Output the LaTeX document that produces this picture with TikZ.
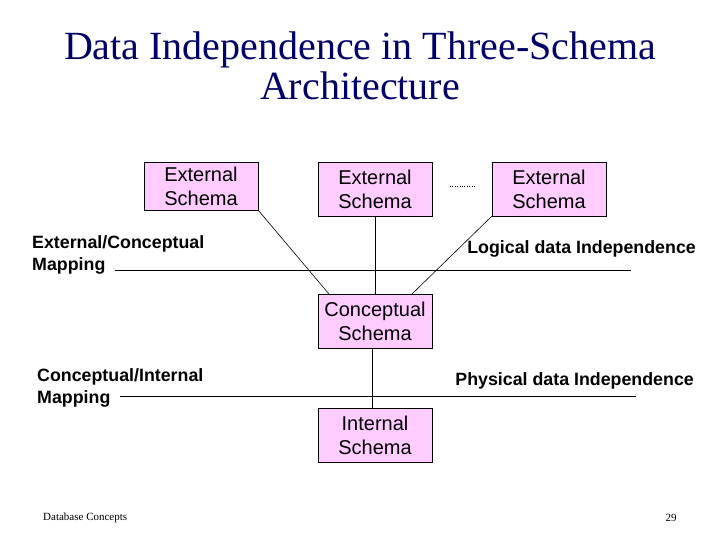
\documentclass[tikz,border=0pt]{standalone}
\usepackage{fontspec}
\setsansfont{Liberation Sans}
\setmainfont{Liberation Serif}
\definecolor{titleblue}{RGB}{0,0,102}
\begin{document}
\begin{tikzpicture}[x=1pt,y=-1pt,
 box/.style={draw,fill={rgb,255:red,255;green,204;blue,255},inner sep=0pt,align=center,font=\sffamily\fontsize{20}{24}\selectfont},
 lab/.style={font=\sffamily\bfseries\fontsize{17.8}{22}\selectfont,align=left,inner sep=0pt},
 ln/.style={draw,line width=0.6pt}]
\useasboundingbox (0,0) rectangle (720,540);
\node[font=\rmfamily\fontsize{40}{40}\selectfont,align=center,text=titleblue] (title) at (360,66) {Data Independence in Three-Schema\\Architecture};
\node[box,minimum width=114pt,minimum height=48pt] (e1) at (201,186) {External\\Schema};
\node[box,minimum width=114pt,minimum height=54pt] (e2) at (375,189) {External\\Schema};
\node[box,minimum width=114pt,minimum height=54pt] (e3) at (549,189) {External\\Schema};
\node[box,minimum width=114pt,minimum height=54pt] (c) at (375,321) {Conceptual\\Schema};
\node[box,minimum width=114pt,minimum height=54pt] (i) at (375,435) {Internal\\Schema};
\coordinate (d1) at (450,186); \coordinate (d2) at (475,186);
\draw[dotted] (d1) -- (d2);
\draw[ln] (e1.south east) -- ([xshift=11pt]c.north west);
\draw[ln] (e2.south) -- (c.north);
\draw[ln] (e3.south west) -- ([xshift=-20pt]c.north east);
\draw[ln] ([xshift=-3pt]c.south) -- ([xshift=-3pt]i.north);
\coordinate (h1a) at (115,270); \coordinate (h1b) at (631,270);
\coordinate (h2a) at (120,396); \coordinate (h2b) at (636,396);
\draw[ln] (h1a) -- (h1b);
\draw[ln] (h2a) -- (h2b);
\node[lab,anchor=west] (m1) at (32,244) {External/Conceptual};
\node[lab,anchor=west] at (32,266) {Mapping};
\node[lab,anchor=east] (l1) at (696,249) {Logical data Independence};
\node[lab,anchor=west] (m2) at (37,377) {Conceptual/Internal};
\node[lab,anchor=west] at (37,399) {Mapping};
\node[lab,anchor=east] (l2) at (694,381) {Physical data Independence};
\node[font=\rmfamily\fontsize{11}{12}\selectfont,anchor=west,inner sep=0pt] (f1) at (43,518) {Database Concepts};
\node[font=\rmfamily\fontsize{11}{12}\selectfont,anchor=center,inner sep=0pt] (f2) at (671,518) {29};
\end{tikzpicture}
\end{document}
